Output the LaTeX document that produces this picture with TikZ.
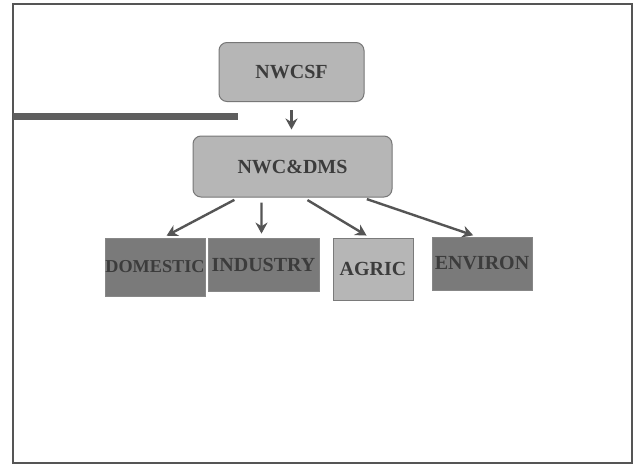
\documentclass[tikz,border=0pt]{standalone}
\usepackage{fontspec}
\setmainfont{Liberation Serif}
\usetikzlibrary{arrows.meta}

\definecolor{boxdark}{HTML}{7A7A7A}
\definecolor{boxlight}{HTML}{B6B6B6}
\definecolor{inkdark}{HTML}{3C3C3C}
\definecolor{linegray}{HTML}{555555}

\tikzset{
  head/.style={draw=linegray!80, fill=boxlight, rounded corners=8pt, line width=1pt,
    inner sep=0pt, text=inkdark, font=\fontsize{20}{23}\selectfont\bfseries},
  sector/.style={draw=boxdark!90, fill=boxdark, line width=0.8pt, inner sep=0pt,
    text=inkdark, font=\fontsize{20}{23}\selectfont\bfseries},
  link/.style={draw=linegray, line width=2.4pt, -{Stealth[length=11pt,width=12pt]}}
}

\begin{document}
\begin{tikzpicture}[x=1pt, y=-1pt]
  \useasboundingbox (0,0) rectangle (641,464);
  \fill[white] (0,0) rectangle (641,464);
  \draw[linegray, line width=2pt] (13,4) rectangle (632,463);
  \fill[linegray!95] (13,113) rectangle (238,120);

  \node[head, minimum width=145pt, minimum height=59pt] (nwcsf) at (291.5,72) {NWCSF};
  \node[head, minimum width=199pt, minimum height=61pt] (nwcdms) at (292.5,166.5) {NWC\&DMS};

  \node[sector, minimum width=100pt, minimum height=58pt, font=\fontsize{18.2}{22}\selectfont\bfseries] (domestic) at (155,267) {DOMESTIC};
  \node[sector, minimum width=111pt, minimum height=53pt] (industry) at (263.5,264.5) {INDUSTRY};
  \node[sector, fill=boxlight, draw=boxdark, minimum width=80pt, minimum height=62pt, text depth=-6pt] (agric) at (373,269) {AGRIC};
  \node[sector, minimum width=100pt, minimum height=53pt] (environ) at (482,263.5) {ENVIRON};

  \draw[link, shorten <=8pt, shorten >=6pt] (nwcsf.south) -- (nwcsf.south |- nwcdms.north);
  \draw[link, shorten <=5pt, shorten >=4pt] (nwcdms.210) -- ([xshift=8pt]domestic.north);
  \draw[link, shorten <=5pt, shorten >=4pt] (nwcdms.225) -- ([xshift=-2pt]industry.north);
  \draw[link, shorten <=5pt, shorten >=4pt] (nwcdms.289) -- ([xshift=-3pt]agric.north);
  \draw[link, shorten <=5pt, shorten >=4pt] (nwcdms.336) -- ([xshift=-5pt]environ.north);
\end{tikzpicture}
\end{document}
